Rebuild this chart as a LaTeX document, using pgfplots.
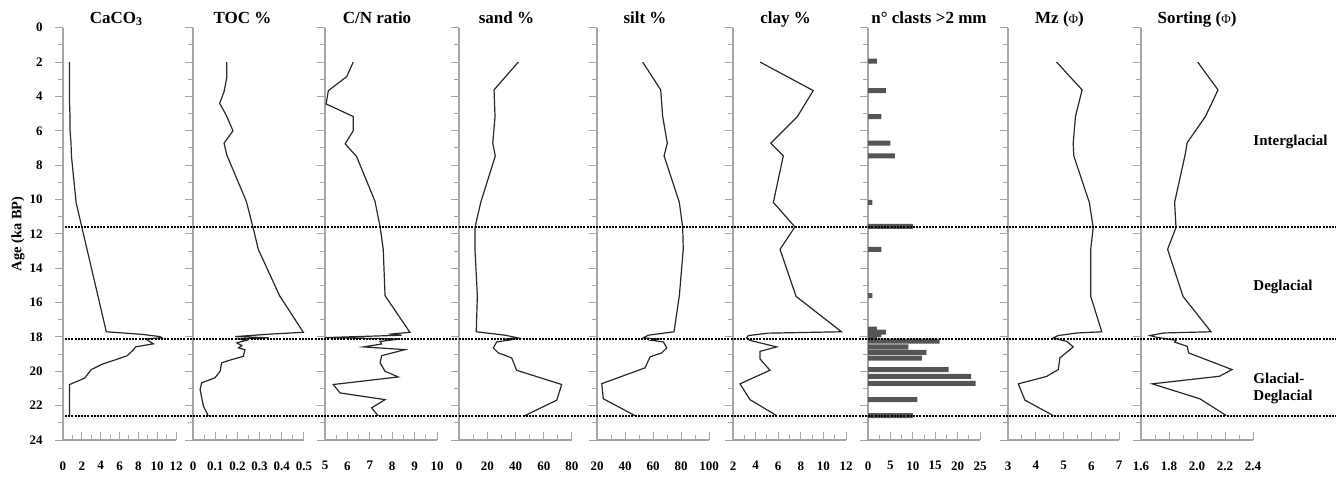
\documentclass[border=0pt]{standalone}
\usepackage{fontspec}
\setmainfont{Liberation Serif}
\usepackage{pgfplots}
\pgfplotsset{compat=1.18}
\definecolor{axgray}{RGB}{165,165,165}
\definecolor{dat}{RGB}{40,40,40}
\definecolor{barc}{RGB}{85,85,85}
\tikzset{
  dashl/.style={black, line width=1pt, dash pattern=on 1pt off 0.6pt},
  side/.style={anchor=base west, inner sep=0pt, font=\bfseries\fontsize{7.5}{8}\selectfont},
  dline/.style={dat, line width=0.6pt},
}
\pgfplotsset{
  panel/.style={
    scale only axis, height=206.15pt, anchor=south west,
    ymin=0, ymax=24, y dir=reverse, enlargelimits=false,
    axis x line*=bottom, axis y line*=left,
    axis line style={axgray, line width=0.6pt},
    tick align=outside,
    tick style={axgray, line width=0.5pt},
    major tick length=4pt, minor tick length=2.5pt,
    major x tick style={yshift=4pt},
    minor x tick style={yshift=2.5pt},
    ytick={0,2,...,24}, minor ytick={1,3,...,23},
    yticklabels={},
    /pgf/number format/assume math mode=true,
    tick label style={font=\bfseries\fontsize{6.5}{7}\selectfont, text=black},
    xticklabel style={anchor=north, inner sep=0pt, yshift=-6.5pt},
    yticklabel style={anchor=east, inner sep=0pt, xshift=-6pt},
    title style={at={(axis description cs:0.5,1)}, anchor=base, yshift=-3.65pt, font=\bfseries\fontsize{8.5}{9}\selectfont},
    clip=false,
  },
}
\begin{document}
\begin{tikzpicture}
% 1 CaCO3
\begin{axis}[panel, at={(31.5pt,18pt)}, width=56.5pt, xmin=0, xmax=12,
  xtick={0,2,...,12}, minor xtick={1,3,...,11},
  ytick={0,2,...,24}, yticklabels={0,2,4,6,8,10,12,14,16,18,20,22,24},
  title={CaCO\textsubscript{3}}, title style={xshift=-1.5pt}]
\addplot[dline] coordinates {(0.7,2.0)(0.7,2.9)(0.7,3.7)(0.7,4.5)(0.75,5.2)(0.75,6.0)(0.85,6.7)(0.9,7.5)(1.4,10.2)(4.6,17.7)(8.4,17.85)(10.3,17.98)(10.5,18.05)(8.8,18.12)(9.0,18.2)(9.6,18.4)(7.7,18.58)(7.5,18.74)(6.8,19.1)(4.1,19.6)(3.0,19.9)(2.3,20.4)(0.7,20.77)(0.7,22.6)};
\node[rotate=90, anchor=center, inner sep=0pt, font=\bfseries\fontsize{7.2}{8}\selectfont] at (axis description cs:-0.398,0.5) {Age (ka BP)};
\end{axis}
% 2 TOC
\begin{axis}[panel, at={(96.5pt,18pt)}, width=55.5pt, xmin=0, xmax=0.5,
  xtick={0,0.1,0.2,0.3,0.4,0.5}, minor xtick={0.05,0.15,0.25,0.35,0.45},
  title={TOC \%}, title style={xshift=-3pt}]
\addplot[dline] coordinates {(0.152,2.0)(0.152,2.9)(0.14,3.72)(0.12,4.4)(0.15,5.1)(0.18,6.0)(0.14,6.72)(0.152,7.4)(0.24,10.1)(0.27,11.6)(0.294,12.9)(0.39,15.6)(0.497,17.73)(0.354,17.83)(0.19,17.98)(0.34,18.05)(0.21,18.12)(0.24,18.2)(0.197,18.35)(0.22,18.5)(0.205,18.64)(0.234,18.74)(0.227,19.13)(0.174,19.32)(0.129,19.51)(0.122,20.0)(0.099,20.38)(0.039,20.67)(0.032,21.06)(0.047,22.03)(0.069,22.6)};
\end{axis}
% 3 C/N
\begin{axis}[panel, at={(162.5pt,18pt)}, width=56pt, xmin=5, xmax=10,
  xtick={5,6,7,8,9,10}, minor xtick={5.5,6.5,7.5,8.5,9.5},
  title={C/N ratio}, title style={xshift=-2pt}]
\addplot[dline] coordinates {(6.26,2.0)(5.97,2.85)(5.15,3.66)(5.05,4.44)(6.26,5.17)(6.26,6.0)(5.9,6.76)(6.41,7.5)(7.23,10.1)(7.46,11.6)(7.6,12.9)(7.68,15.6)(8.79,17.73)(7.98,17.83)(8.42,17.9)(5.0,18.04)(8.35,18.12)(7.46,18.26)(7.53,18.41)(6.71,18.58)(8.57,18.74)(7.53,19.09)(7.46,19.51)(7.68,20.0)(8.27,20.33)(5.37,20.77)(5.67,21.26)(7.68,21.65)(7.08,22.13)(7.38,22.6)};
\end{axis}
% 4 sand
\begin{axis}[panel, at={(229.5pt,18pt)}, width=56.5pt, xmin=0, xmax=80,
  xtick={0,20,...,80}, minor xtick={10,30,50,70},
  title={sand \%}, title style={xshift=-4.5pt}]
\addplot[dline] coordinates {(42,2.0)(24.8,3.62)(25.5,5.17)(23.9,6.72)(25.7,7.46)(15.4,10.17)(11.3,11.63)(11.3,12.9)(13,15.6)(12.2,17.7)(32.6,17.9)(42,18.06)(32.6,18.12)(37.3,18.16)(26.7,18.29)(24.3,18.64)(27.8,18.93)(37.3,19.22)(40.8,19.94)(72.7,20.77)(69.2,21.68)(46.7,22.58)};
\end{axis}
% 5 silt
\begin{axis}[panel, at={(298.5pt,18pt)}, width=56pt, xmin=20, xmax=100,
  xtick={20,40,...,100}, minor xtick={30,50,70,90},
  title={silt \%}, title style={xshift=-4pt}]
\addplot[dline] coordinates {(52.6,2.0)(65.5,3.62)(66.9,5.17)(70.2,6.72)(67.9,7.46)(78.8,10.17)(81.2,11.63)(81.6,12.9)(78.8,15.6)(75,17.7)(56.6,17.9)(53,18.06)(63.8,18.12)(59,18.2)(67.4,18.29)(69.8,18.64)(66.2,18.93)(57.9,19.16)(54.3,19.8)(23.4,20.72)(24.5,21.6)(47.1,22.58)};
\end{axis}
% 6 clay
\begin{axis}[panel, at={(366.5pt,18pt)}, width=56.5pt, xmin=2, xmax=12,
  xtick={2,4,...,12}, minor xtick={3,5,...,11},
  title={clay \%}, title style={xshift=-2pt}]
\addplot[dline] coordinates {(4.39,2.0)(9.1,3.66)(7.7,5.17)(5.34,6.72)(6.45,7.46)(5.57,10.17)(7.48,11.6)(6.16,12.9)(7.58,15.64)(11.6,17.7)(5.13,17.78)(3.36,17.92)(3.2,18.06)(3.5,18.2)(5.86,18.58)(4.39,18.84)(4.39,19.28)(5.27,19.94)(2.62,20.73)(3.5,21.65)(5.86,22.58)};
\end{axis}
% 7 clasts
\begin{axis}[panel, at={(434pt,18pt)}, width=56pt, xmin=0, xmax=25,
  xtick={0,5,...,25}, minor xtick={2.5,7.5,12.5,17.5,22.5},
  title={n° clasts >2 mm}, title style={xshift=2.5pt}]
\addplot[xbar, bar width=2.5pt, fill=barc, draw=none] coordinates {(2,1.95)(4,3.66)(3,5.17)(5,6.72)(6,7.46)(1,10.17)(10,11.57)(3,12.9)(1,15.6)(2,17.55)(4,17.72)(3,17.88)(2,18.03)(16,18.25)(9,18.58)(13,18.9)(12,19.24)(18,19.9)(23,20.29)(24,20.7)(11,21.65)(10,22.58)};
\end{axis}
% 8 Mz
\begin{axis}[panel, at={(504pt,18pt)}, width=55.5pt, xmin=3, xmax=7,
  xtick={3,4,5,6,7}, minor xtick={3.5,4.5,5.5,6.5},
  title={Mz ({\mdseries\fontsize{6.5}{7}\selectfont Φ})}, title style={xshift=-2pt}]
\addplot[dline] coordinates {(4.75,2.0)(5.67,3.62)(5.43,5.17)(5.35,6.72)(5.37,7.46)(5.93,10.17)(6.07,11.63)(5.98,12.9)(5.98,15.64)(6.38,17.7)(5.48,17.77)(4.81,17.92)(4.63,18.06)(4.87,18.16)(5.12,18.26)(5.35,18.58)(4.87,19.22)(4.81,19.9)(4.39,20.3)(3.37,20.73)(3.61,21.68)(4.63,22.58)};
\end{axis}
% 9 Sorting
\begin{axis}[panel, at={(570.5pt,18pt)}, width=56pt, xmin=1.6, xmax=2.4,
  xtick={1.6,1.8,2.0,2.2,2.4}, minor xtick={1.7,1.9,2.1,2.3},
  xticklabel style={/pgf/number format/.cd, fixed, fixed zerofill, precision=1},
  title={Sorting ({\mdseries\fontsize{6.5}{7}\selectfont Φ})}]
\addplot[dline] coordinates {(2.005,2.0)(2.15,3.62)(2.06,5.17)(1.93,6.69)(1.915,7.4)(1.84,10.17)(1.85,11.63)(1.79,12.9)(1.90,15.64)(2.10,17.7)(1.76,17.77)(1.665,17.92)(1.71,18.02)(1.85,18.2)(1.84,18.3)(1.93,18.55)(1.94,18.93)(2.25,19.9)(2.16,20.29)(1.68,20.73)(2.02,21.6)(2.21,22.58)};
\draw[dashl] (axis cs:1.6,11.6) ++(-538pt,0pt) -- ++(635.5pt,0pt);
\draw[dashl] (axis cs:1.6,18.1) ++(-538pt,0pt) -- ++(635.5pt,0pt);
\draw[dashl] (axis cs:1.6,22.6) ++(-538pt,0pt) -- ++(635.5pt,0pt);
\node[side] at (axis cs:2.4,6.88) {Interglacial};
\node[side] at (axis cs:2.4,15.31) {Deglacial};
\node[side] at (axis cs:2.4,20.72) {Glacial-};
\node[side] at (axis cs:2.4,21.70) {Deglacial};
\end{axis}
\pgfresetboundingbox
\path (0pt,0pt) rectangle (668pt,238pt);
\end{tikzpicture}
\end{document}
